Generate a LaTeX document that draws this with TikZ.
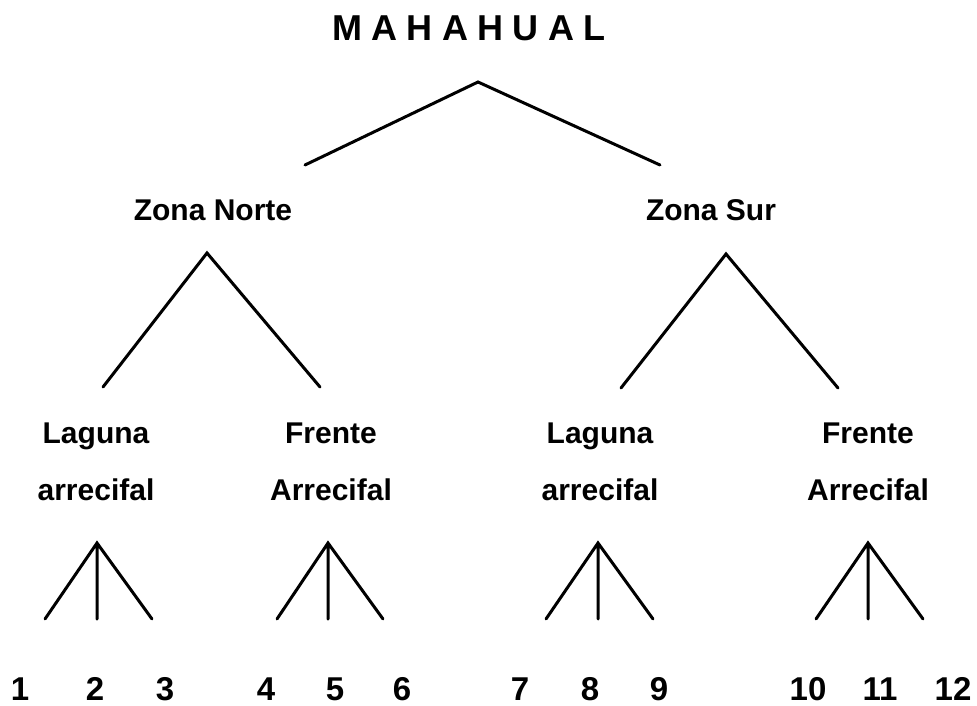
\documentclass[tikz,border=0pt]{standalone}
\usepackage{fontspec}
\setmainfont{Liberation Sans}
\newfontfamily\spacedcaps[LetterSpace=26]{Liberation Sans}
\begin{document}
\begin{tikzpicture}[x=1pt,y=-1pt,
  lbl/.style={font=\fontsize{30}{30}\selectfont\bfseries, anchor=base, inner sep=0pt},
  num/.style={font=\fontsize{33}{33}\selectfont\bfseries, anchor=base, inner sep=0pt},
  ttl/.style={font=\spacedcaps\fontsize{36}{36}\selectfont\bfseries, anchor=base, inner sep=0pt},
  branch/.style={line width=3pt, line cap=round, line join=miter}]
\useasboundingbox (0,0) rectangle (977,706);

% labels
\node[ttl] (root) at (469,41) {MAHAHUAL};
\node[lbl] (zn) at (213,220) {Zona Norte};
\node[lbl] (zs) at (711,220) {Zona Sur};
\node[lbl] (la1) at (96,443) {Laguna};
\node[lbl] (lb1) at (96,500) {arrecifal};
\node[lbl] (fa1) at (331,443) {Frente};
\node[lbl] (fb1) at (331,500) {Arrecifal};
\node[lbl] (la2) at (600,443) {Laguna};
\node[lbl] (lb2) at (600,500) {arrecifal};
\node[lbl] (fa2) at (868,443) {Frente};
\node[lbl] (fb2) at (868,500) {Arrecifal};

% site numbers
\node[num] (n1) at (20,700) {1};
\node[num] (n2) at (95,700) {2};
\node[num] (n3) at (165,700) {3};
\node[num] (n4) at (266,700) {4};
\node[num] (n5) at (335,700) {5};
\node[num] (n6) at (402,700) {6};
\node[num] (n7) at (520,700) {7};
\node[num] (n8) at (590,700) {8};
\node[num] (n9) at (659,700) {9};
\node[num] (n10) at (808,700) {10};
\node[num] (n11) at (880,700) {11};
\node[num] (n12) at (953,700) {12};

% branch points
\coordinate (rA) at (478,82);
\coordinate (rL) at (305,165);
\coordinate (rR) at (660,165);
\coordinate (znA) at (207,253);
\coordinate (znL) at (103,387);
\coordinate (znR) at (320,387);
\coordinate (zsA) at (726,254);
\coordinate (zsL) at (621,388);
\coordinate (zsR) at (838,388);
\coordinate (t1A) at (97,543);
\coordinate (t1L) at (45,619);
\coordinate (t1M) at (97,619);
\coordinate (t1R) at (152,619);
\coordinate (t2A) at (328,543);
\coordinate (t2L) at (277,619);
\coordinate (t2M) at (328,619);
\coordinate (t2R) at (383,619);
\coordinate (t3A) at (598,543);
\coordinate (t3L) at (546,619);
\coordinate (t3M) at (598,619);
\coordinate (t3R) at (653,619);
\coordinate (t4A) at (868,543);
\coordinate (t4L) at (816,619);
\coordinate (t4M) at (868,619);
\coordinate (t4R) at (923,619);

% branches
\draw[branch] (rL) -- (rA) -- (rR);
\draw[branch] (znL) -- (znA) -- (znR);
\draw[branch] (zsL) -- (zsA) -- (zsR);
\draw[branch] (t1L) -- (t1A) -- (t1R) (t1A) -- (t1M);
\draw[branch] (t2L) -- (t2A) -- (t2R) (t2A) -- (t2M);
\draw[branch] (t3L) -- (t3A) -- (t3R) (t3A) -- (t3M);
\draw[branch] (t4L) -- (t4A) -- (t4R) (t4A) -- (t4M);
\end{tikzpicture}
\end{document}
